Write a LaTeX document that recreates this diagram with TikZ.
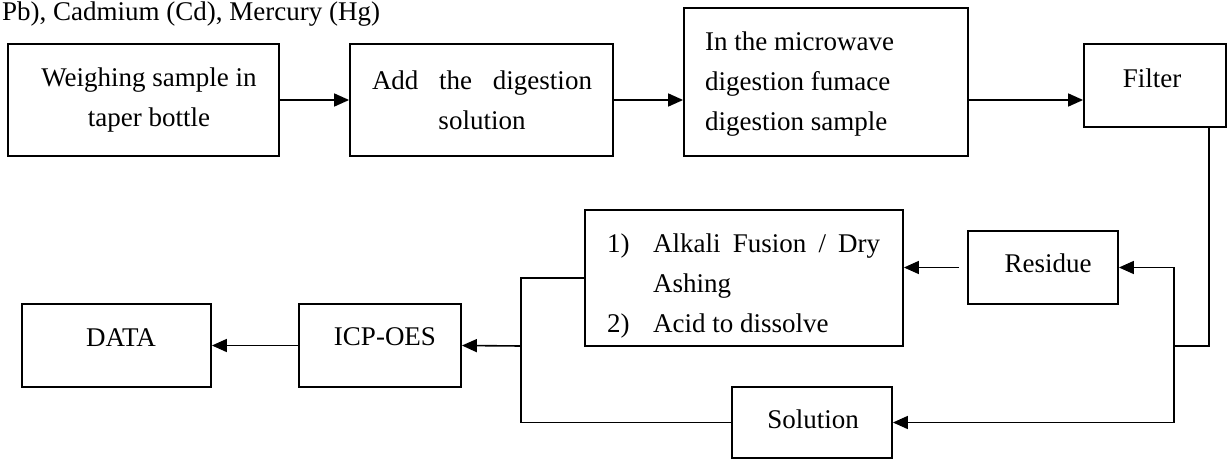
\documentclass[tikz,border=0pt]{standalone}
\usepackage{fontspec}
\setmainfont{Liberation Serif}
\usetikzlibrary{arrows.meta}

\tikzset{
	box/.style={draw,line width=1.8pt,inner sep=0pt},
	txt/.style={inner sep=0pt,font=\fontsize{27}{40}\selectfont},
	flow/.style={line width=1.6pt,-{Triangle[length=15pt,width=13pt]}},
	wire/.style={line width=1.6pt}
}

\begin{document}
\begin{tikzpicture}[x=1pt,y=-1pt]
			\clip (0,0) rectangle (1231,460);
			
			\node[txt,anchor=base west] (head) at (2,21) {Pb), Cadmium (Cd), Mercury (Hg)};
			
			% first row
			\node[box,minimum width=271pt,minimum height=112pt] (weigh) at (143.5,100) {};
			\node[txt,align=center] (weightxt) at (149,100) {Weighing sample in\\taper bottle};
			\node[box,minimum width=263pt,minimum height=112pt] (add) at (481.5,100) {};
			\node[txt,align=center] (addtxt) at (482,100) {\makebox[220pt][s]{Add the digestion}\\solution};
			\node[box,minimum width=284pt,minimum height=148pt] (micro) at (826,82) {};
			\node[txt,align=left,anchor=west] (microtxt) at (705,84) {In the microwave\\digestion fumace\\digestion sample};
			\node[box,minimum width=142pt,minimum height=83pt] (filter) at (1155,85.5) {};
			\node[txt] (filtertxt) at (1152,78) {Filter};
			
			% second row
			\node[box,minimum width=150pt,minimum height=73pt] (residue) at (1043,267.5) {};
			\node[txt] (residuetxt) at (1048,263) {Residue};
			\node[box,minimum width=318pt,minimum height=136pt] (alkali) at (744,278) {};
			\node[txt,align=left,anchor=west] (alkalitxt) at (607,286) {\makebox[46pt][l]{1)}\makebox[227pt][s]{Alkali Fusion / Dry}\\\hspace*{46pt}Ashing\\\makebox[46pt][l]{2)}Acid to dissolve};
			\node[box,minimum width=160pt,minimum height=71pt] (solution) at (812,422.5) {};
			\node[txt] (solutiontxt) at (813,419) {Solution};
			\node[box,minimum width=162pt,minimum height=83pt] (icp) at (380,345.5) {};
			\node[txt] (icptxt) at (385,337) {ICP-OES};
			\node[box,minimum width=189pt,minimum height=83pt] (data) at (116.5,345.5) {};
			\node[txt] (datatxt) at (121,338) {DATA};
			
			\coordinate (fdrop) at (1209,346);
			\coordinate (split) at (1174,346);
			\coordinate (join) at (521,346);
			
			\draw[flow] (weigh.east) -- (add.west);
			\draw[flow] (add.east) -- (add.east -| micro.west);
			\draw[flow] (micro.east |- add.east) -- (filter.west |- add.east);
			\draw[wire] (filter.south -| fdrop) -- (fdrop) -- (split);
			\draw[flow] (split) |- (residue.east);
			\draw[flow] (split) |- (solution.east);
			\draw[flow,shorten <=8pt] (residue.west) -- (residue.west -| alkali.east);
			\draw[wire] (alkali.west) -| (join) |- (solution.west);
			%\draw[gray] (523,283) -- (523,428);
			\draw[flow] (join) -- (icp.east);
			\draw[flow] (icp.west) -- (data.east);
			
\end{tikzpicture}
\end{document}
